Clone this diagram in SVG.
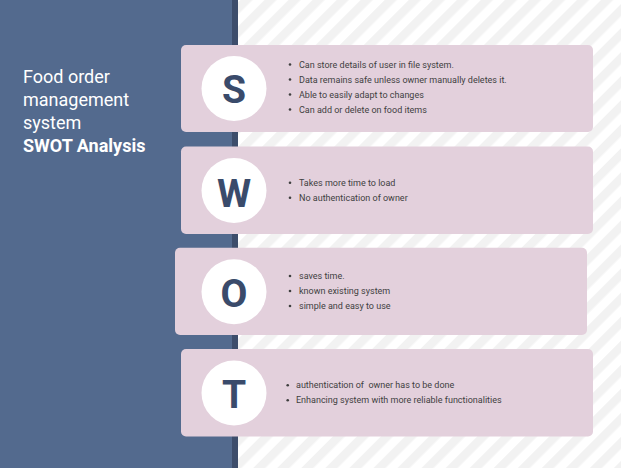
<svg xmlns="http://www.w3.org/2000/svg" width="621" height="468" viewBox="0 0 621 468">
<style>
.card{fill:#e3d0dc;}
.circ{fill:#ffffff;}
.letter{font-family:Roboto,"Liberation Sans",sans-serif;font-weight:bold;font-size:39px;fill:#3a4b6b;text-anchor:middle;}
.item{font-family:Roboto,"Liberation Sans",sans-serif;font-size:9px;fill:#3f3f3f;}
.dot{fill:#3f3f3f;}
.title{font-family:Roboto,"Liberation Sans",sans-serif;font-size:18px;fill:#ffffff;}
</style>
<defs>
<pattern id="stripes" width="17" height="17" patternUnits="userSpaceOnUse" patternTransform="rotate(45)">
<rect x="0" y="0" width="17" height="17" fill="#ffffff"/>
<rect x="0" y="0" width="8.5" height="17" fill="#f2f2f2"/>
</pattern>
</defs>
<rect x="0" y="0" width="621" height="468" fill="url(#stripes)"/>
<rect x="0" y="0" width="232" height="468" fill="#536a8e"/>
<rect x="232" y="0" width="6" height="468" fill="#3d4d6b"/>
<g id="title">
<text class="title" x="23" y="83">Food order</text>
<text class="title" x="23" y="106">management</text>
<text class="title" x="23" y="129">system</text>
<text class="title" x="23" y="152" font-weight="bold">SWOT Analysis</text>
</g>
<g id="strengths">
<rect class="card" x="181" y="45" width="412" height="87" rx="5"/>
<circle class="circ" cx="234" cy="88.5" r="32.5"/>
<text class="letter" x="234" y="103">S</text>
<circle class="dot" cx="290" cy="64.5" r="1.3"/>
<circle class="dot" cx="290" cy="79.5" r="1.3"/>
<circle class="dot" cx="290" cy="94.5" r="1.3"/>
<circle class="dot" cx="290" cy="109.5" r="1.3"/>
<text class="item" x="299" y="67.5">Can store details of user in file system.</text>
<text class="item" x="299" y="82.5">Data remains safe unless owner manually deletes it.</text>
<text class="item" x="299" y="97.5">Able to easily adapt to changes</text>
<text class="item" x="299" y="112.5">Can add or delete on food items</text>
</g>
<g id="weaknesses">
<rect class="card" x="181" y="146.5" width="412" height="87.5" rx="5"/>
<circle class="circ" cx="234" cy="190.5" r="32.5"/>
<text class="letter" x="234" y="206.5">W</text>
<circle class="dot" cx="290" cy="182.8" r="1.3"/>
<circle class="dot" cx="290" cy="197.8" r="1.3"/>
<text class="item" x="299" y="185.8">Takes more time to load</text>
<text class="item" x="299" y="200.8">No authentication of owner</text>
</g>
<g id="opportunities">
<rect class="card" x="175" y="247.7" width="412" height="87.3" rx="5"/>
<circle class="circ" cx="234" cy="291.7" r="32.5"/>
<text class="letter" x="234" y="306.5">O</text>
<circle class="dot" cx="290" cy="276" r="1.3"/>
<circle class="dot" cx="290" cy="291" r="1.3"/>
<circle class="dot" cx="290" cy="306" r="1.3"/>
<text class="item" x="299" y="279">saves time.</text>
<text class="item" x="299" y="294">known existing system</text>
<text class="item" x="299" y="309">simple and easy to use</text>
</g>
<g id="threats">
<rect class="card" x="181" y="349" width="412" height="87.5" rx="5"/>
<circle class="circ" cx="234" cy="393" r="32.5"/>
<text class="letter" x="234" y="408.3">T</text>
<circle class="dot" cx="287.7" cy="385.3" r="1.3"/>
<circle class="dot" cx="287.7" cy="400.3" r="1.3"/>
<text class="item" x="296" y="388.3" xml:space="preserve">authentication of  owner has to be done</text>
<text class="item" x="296" y="403.3">Enhancing system with more reliable functionalities</text>
</g>
<g id="connectors"></g>
</svg>
